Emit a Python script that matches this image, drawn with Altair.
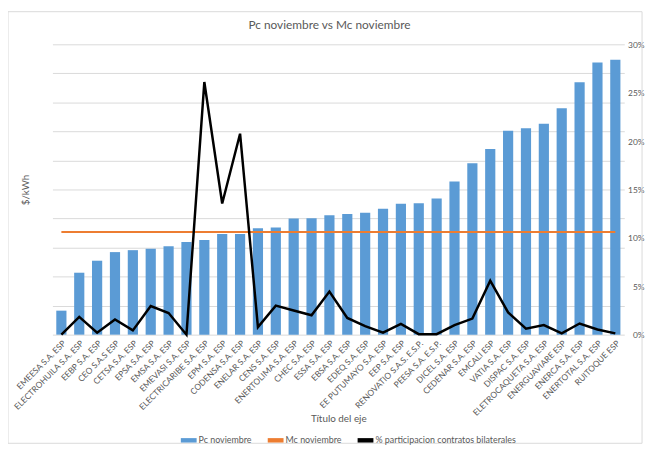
import altair as alt
import pandas as pd

companies = [
    "EMEESA S.A. ESP", "ELECTROHUILA S.A. ESP", "EEBP S.A. ESP", "CEO S.A.S ESP",
    "CETSA S.A. ESP", "EPSA S.A. ESP", "EMSA S.A. ESP", "EMEVASI S.A. ESP",
    "ELECTRICARIBE S.A. ESP", "EPM S.A. ESP", "CODENSA S.A. ESP", "ENELAR S.A. ESP",
    "CENS S.A. ESP", "ENERTOLIMA S.A. ESP", "CHEC S.A. ESP", "ESSA S.A. ESP",
    "EBSA S.A. ESP", "EDEQ S.A. ESP", "EE PUTUMAYO S.A. ESP", "EEP S.A. ESP",
    "RENOVATIO S.A.S. E.S.P.", "PEESA S.A. E.S.P.", "DICEL S.A. ESP", "CEDENAR S.A. ESP",
    "EMCALI ESP", "VATIA S.A. ESP", "DISPAC S.A. ESP", "ELETROCAQUETA S.A. ESP",
    "ENERGUAVIARE ESP", "ENERCA S.A. ESP", "ENERTOTAL S.A. ESP", "RUITOQUE ESP",
]
pc_noviembre = [
    24.8, 64.0, 76.4, 85.3, 87.3, 88.7, 91.4, 95.8,
    97.8, 104.0, 104.0, 110.0, 110.8, 120.0, 120.2, 123.3,
    124.6, 126.0, 130.0, 135.2, 135.9, 140.6, 158.3, 177.0,
    191.9, 210.6, 213.3, 218.0, 234.0, 260.9, 281.3, 284.0,
]
mc_noviembre = 106.0
participacion_pct = [
    0.0, 1.83, 0.2, 1.56, 0.44, 2.96, 2.24, 0.0,
    26.1, 13.55, 20.76, 0.78, 3.0, 2.5, 2.0, 4.45,
    1.73, 0.88, 0.2, 1.12, 0.05, 0.05, 0.99, 1.66,
    5.57, 2.3, 0.61, 0.99, 0.13, 1.15, 0.54, 0.13,
]
series = ["Pc noviembre", "Mc noviembre", "% participacion contratos bilaterales"]
colors = ["#5b9bd5", "#ed7d31", "#000000"]

df = pd.DataFrame({
    "empresa": companies,
    "pc": pc_noviembre,
    "mc": [mc_noviembre] * len(companies),
    "pct": [v / 100 for v in participacion_pct],
    "s_pc": series[0],
    "s_mc": series[1],
    "s_pct": series[2],
})

GRAY = "#595959"
color_scale = alt.Scale(domain=series, range=colors)
legend = alt.Legend(
    title=None, orient="none", legendX=130, legendY=393, direction="horizontal",
    columns=3, labelFontSize=9, labelColor=GRAY, columnPadding=16, labelOffset=2,
    symbolType="M-1,-0.28H1V0.28H-1Z", symbolSize=256, symbolStrokeWidth=0,
)

x_enc = alt.X(
    "empresa:N", sort=companies, title="Título del eje",
    scale=alt.Scale(paddingInner=0.43, paddingOuter=0.215),
    axis=alt.Axis(
        labelAngle=-45, labelFontSize=8.5, labelColor=GRAY, ticks=False, domain=False,
        labelPadding=4, titleFontSize=10, titleColor=GRAY, titleFontWeight="normal",
        titleY=85, titleBaseline="middle",
    ),
)
left_scale = alt.Scale(domain=[0, 300], nice=False, zero=True)

bars = alt.Chart(df).mark_bar(color=colors[0]).encode(
    x=x_enc,
    y=alt.Y(
        "pc:Q", scale=left_scale,
        axis=alt.Axis(
            values=list(range(0, 301, 30)), labels=False, ticks=False, domain=False,
            grid=True, gridColor="#d9d9d9", gridWidth=1, title="$/kWh",
            titleFontSize=10, titleColor=GRAY, titleFontWeight="normal", titlePadding=22,
        ),
    ),
    color=alt.Color("s_pc:N", scale=color_scale, legend=legend),
)

mc_line = alt.Chart(df).mark_line(color=colors[1], strokeWidth=2).encode(
    x=alt.X("empresa:N", sort=companies),
    y=alt.Y("mc:Q", scale=left_scale, axis=None),
    color=alt.Color("s_mc:N", scale=color_scale, legend=legend),
)

pct_line = alt.Chart(df).mark_line(color=colors[2], strokeWidth=2.5).encode(
    x=alt.X("empresa:N", sort=companies),
    y=alt.Y(
        "pct:Q", scale=alt.Scale(domain=[0, 0.3], nice=False),
        axis=alt.Axis(
            orient="right", format=".0%", values=[0, 0.05, 0.1, 0.15, 0.2, 0.25, 0.3],
            grid=False, ticks=False, domain=False, labelAlign="right", labelPadding=20,
            labelFontSize=8.5, labelColor=GRAY, title=None,
        ),
    ),
    color=alt.Color("s_pct:N", scale=color_scale, legend=legend),
)

frame = alt.Chart(pd.DataFrame({"a": [0]})).mark_rect(
    filled=False, stroke="#d9d9d9", strokeWidth=1
).encode(
    x=alt.value(-45), x2=alt.value(597), y=alt.value(-33), y2=alt.value(404)
)

chart = alt.layer(frame, bars, mc_line, pct_line).resolve_scale(
    y="independent"
).properties(
    width=579, height=294,
    title=alt.TitleParams(
        "Pc noviembre vs Mc noviembre", fontSize=12, color=GRAY, fontWeight="normal",
        anchor="middle", dx=-9, offset=-21, font="Lato",
    ),
    autosize=alt.AutoSizeParams(type="none"),
    padding={"left": 45, "top": 34, "right": 21, "bottom": 112},
).configure(font="Lato").configure_view(stroke=None)

chart.save("out.html", embed_options={"renderer": "svg", "actions": False})
